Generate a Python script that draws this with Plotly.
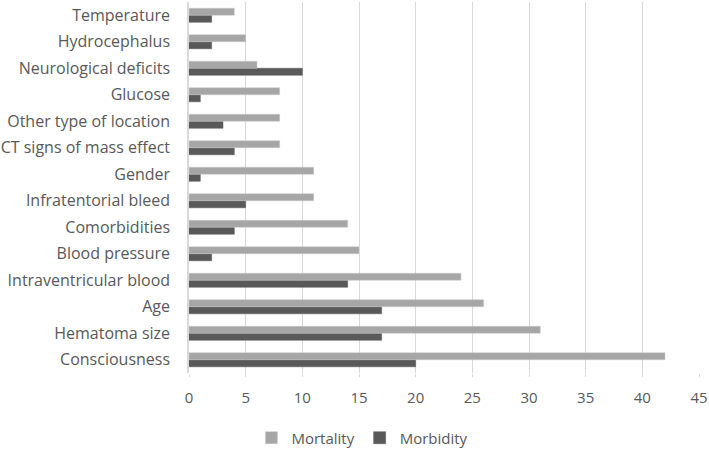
import plotly.graph_objects as go

categories = ["Consciousness", "Hematoma size", "Age", "Intraventricular blood",
              "Blood pressure", "Comorbidities", "Infratentorial bleed", "Gender",
              "CT signs of mass effect", "Other type of location", "Glucose",
              "Neurological deficits", "Hydrocephalus", "Temperature"]
mortality = [42, 31, 26, 24, 15, 14, 11, 11, 8, 8, 8, 6, 5, 4]
morbidity = [20, 17, 17, 14, 2, 4, 5, 1, 4, 3, 1, 10, 2, 2]
x_ticks = [0, 5, 10, 15, 20, 25, 30, 35, 40, 45]

fig = go.Figure()
fig.add_trace(go.Bar(y=categories, x=morbidity, name="Morbidity", orientation="h",
                     marker=dict(color="#595959", line=dict(color="#595959", width=0.5))))
fig.add_trace(go.Bar(y=categories, x=mortality, name="Mortality", orientation="h",
                     marker=dict(color="#a6a6a6", line=dict(color="#c8c8c8", width=0.5))))

fig.update_layout(
    width=709, height=452,
    margin=dict(l=189, r=10, t=2, b=79, autoexpand=False),
    barmode="group", bargap=0.47, bargroupgap=0,
    plot_bgcolor="white", paper_bgcolor="white",
    font=dict(family="Open Sans, Lato, sans-serif", size=15, color="#595959"),
    legend=dict(orientation="h", x=0.34, xanchor="center", y=-0.175, yanchor="middle",
                traceorder="reversed", font=dict(size=15, color="#595959"),
                itemwidth=30),
    xaxis=dict(range=[0, 45], tickvals=x_ticks, showgrid=True, gridcolor="#d9d9d9",
               gridwidth=1, zeroline=False, showline=False, ticks="outside", ticklen=3,
               tickcolor="#d9d9d9", ticklabelstandoff=8,
               tickfont=dict(size=15, color="#595959")),
    yaxis=dict(showgrid=False, showline=True, linecolor="#d9d9d9", linewidth=1.5,
               ticks="", ticklabelstandoff=14, tickfont=dict(size=16, color="#595959")),
)

fig.write_html("out.html", config={"displayModeBar": False},
               post_script="document.body.style.margin='0';")
